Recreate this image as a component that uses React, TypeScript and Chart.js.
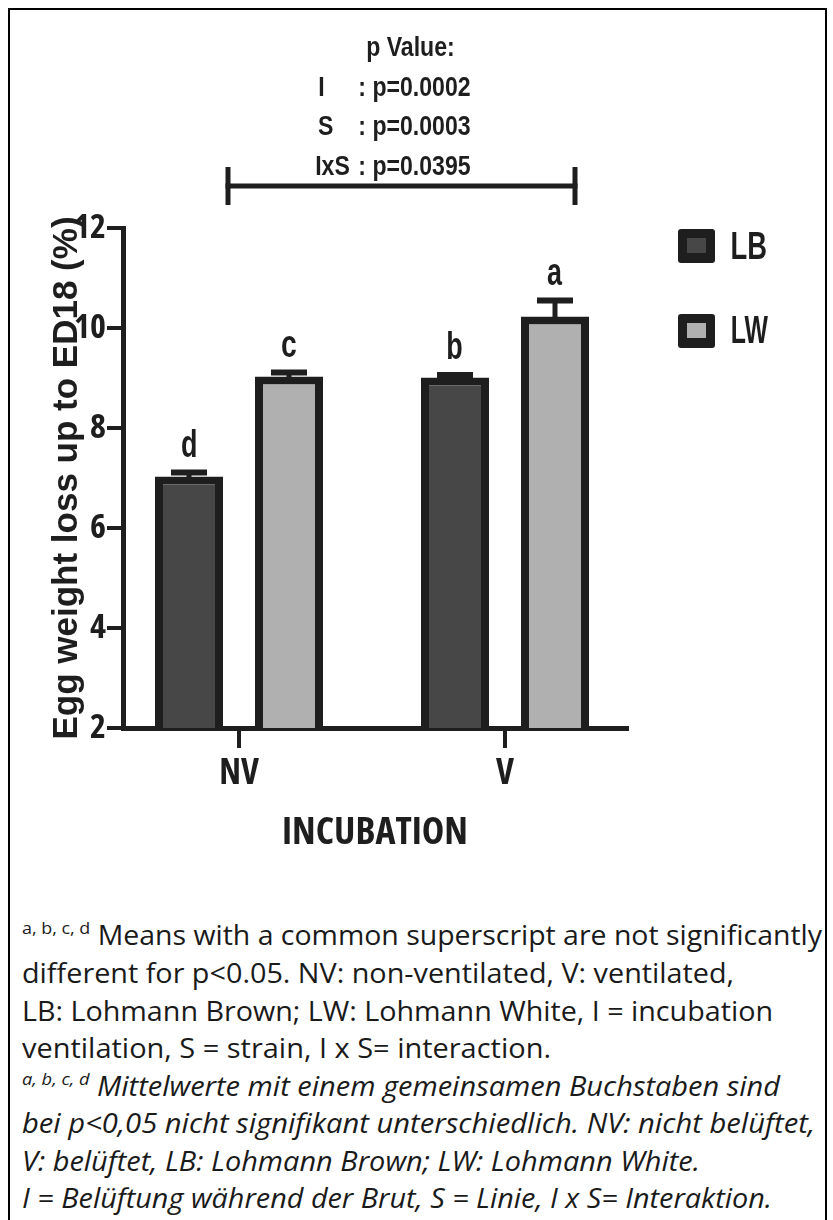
import React, { useEffect, useLayoutEffect, useRef } from 'react';
import { Chart, registerables } from 'chart.js';

Chart.register(...registerables);

// ---------- data ----------
const categories = ['NV', 'V'];
const seriesNames = ['LB', 'LW'];
const lbMeans = [7.03, 9.01];
const lwMeans = [9.03, 10.23];
const lbErrors = [0.08, 0.05];
const lwErrors = [0.08, 0.32];
const lbLetters = ['d', 'b'];
const lwLetters = ['c', 'a'];
const yTickValues = [2, 4, 6, 8, 10, 12];
const pTitle = 'p Value:';
const pTerms = ['I', 'S', 'IxS'];
const pValues = ['p=0.0002', 'p=0.0003', 'p=0.0395'];
const xTitle = 'INCUBATION';
const yTitle = 'Egg weight loss up to ED18 (%)';

const footSup = 'a, b, c, d';
const footLines = [
  ' Means with a common superscript are not significantly',
  'different for p<0.05. NV: non-ventilated, V: ventilated,',
  'LB: Lohmann Brown; LW: Lohmann White, I = incubation',
  'ventilation, S = strain, I x S= interaction.',
  ' Mittelwerte mit einem gemeinsamen Buchstaben sind',
  'bei p<0,05 nicht signifikant unterschiedlich. NV: nicht belüftet,',
  'V: belüftet, LB: Lohmann Brown; LW: Lohmann White.',
  'I = Belüftung während der Brut, S = Linie, I x S= Interaktion.',
];

// ---------- styles / layout ----------
const INK = '#1e1e1e';
const FILLS = ['#474747', '#b0b0b0'];
const NARROW = '"Liberation Sans", Arial, sans-serif';
const COND = '"Open Sans", "Liberation Sans", sans-serif';
const SANS = '"Liberation Sans", Arial, sans-serif';
const footHasSup = [true, false, false, false, true, false, false, false];
const footItalic = [false, false, false, false, true, true, true, true];
const footBaseline = [945, 983, 1021, 1058, 1096, 1133, 1171, 1208];
const footRight = [822, 734, 773, 551, 780, 815, 700, 772];
const FOOT_LEFT = 22;
const FOOT_SIZE = 27;

function drawFit(
  ctx: CanvasRenderingContext2D,
  text: string,
  x: number,
  baseline: number,
  font: string,
  opts: { target?: number; scale?: number; align: 'left' | 'center' }
) {
  ctx.save();
  ctx.font = font;
  ctx.textAlign = 'left';
  ctx.textBaseline = 'alphabetic';
  const m = ctx.measureText(text);
  const inkW = m.actualBoundingBoxLeft + m.actualBoundingBoxRight;
  let s = opts.scale ?? 1;
  if (opts.target && inkW > 0) s = opts.target / inkW;
  ctx.translate(x, baseline);
  ctx.scale(s, 1);
  const ox =
    opts.align === 'center'
      ? -(m.actualBoundingBoxRight - m.actualBoundingBoxLeft) / 2
      : m.actualBoundingBoxLeft;
  ctx.fillText(text, ox, 0);
  ctx.restore();
  return s;
}

const annotPlugin = {
  id: 'annot',
  afterDatasetsDraw(chart: any) {
    const ctx: CanvasRenderingContext2D = chart.ctx;
    const yScale = chart.scales.y;
    const means = [lbMeans, lwMeans];
    const errs = [lbErrors, lwErrors];
    const letters = [lbLetters, lwLetters];
    ctx.save();
    ctx.fillStyle = INK;
    chart.data.datasets.forEach((_ds: any, d: number) => {
      const meta = chart.getDatasetMeta(d);
      meta.data.forEach((bar: any, i: number) => {
        const yTop = yScale.getPixelForValue(means[d][i]);
        const yErr = yScale.getPixelForValue(means[d][i] + errs[d][i]);
        ctx.fillStyle = INK;
        ctx.fillRect(bar.x - 2.5, yErr, 5, yTop - yErr + 4);
        ctx.fillRect(bar.x - 18, yErr - 3, 36, 6);
        drawFit(ctx, letters[d][i], bar.x, yErr - 16, `bold 39px ${NARROW}`, {
          target: 14.5,
          align: 'center',
        });
      });
    });
    ctx.restore();
  },
  afterDraw(chart: any) {
    const ctx: CanvasRenderingContext2D = chart.ctx;
    ctx.save();
    ctx.fillStyle = INK;
    const pFont = `bold 27px ${NARROW}`;
    const s = drawFit(ctx, pTitle, 367, 56, pFont, { target: 86, align: 'left' });
    const termLeft = [319, 318, 316];
    const rowBase = [96, 135, 175];
    pTerms.forEach((t, i) => {
      drawFit(ctx, t, termLeft[i], rowBase[i], pFont, { scale: s, align: 'left' });
      drawFit(ctx, ': ' + pValues[i], 360, rowBase[i], pFont, { scale: s, align: 'left' });
    });
    // bracket spanning both incubation groups
    const xs = chart.scales.x;
    const xl = xs.getPixelForValue(0) - 11;
    const xr = xs.getPixelForValue(1) + 70;
    const yb = 186;
    ctx.fillRect(xl - 2.5, yb - 2.5, xr - xl + 5, 5);
    ctx.fillRect(xl - 2.5, yb - 19, 5, 38);
    ctx.fillRect(xr - 2.5, yb - 19, 5, 38);
    // legend
    chart.data.datasets.forEach((ds: any, d: number) => {
      const bx = 678;
      const by = 229 + d * 85;
      ctx.fillStyle = INK;
      ctx.beginPath();
      (ctx as any).roundRect(bx, by, 37, 34, 3);
      ctx.fill();
      ctx.fillStyle = ds.backgroundColor;
      ctx.fillRect(bx + 9, by + 9, 19, 15);
      ctx.fillStyle = INK;
      drawFit(ctx, ds.label, 732, 259 + d * 84, `bold 38px ${NARROW}`, {
        target: 34 + d * 2,
        align: 'left',
      });
    });
    ctx.restore();
  },
};

export default function App() {
  const canvasRef = useRef<HTMLCanvasElement>(null);
  const lineRefs = useRef<(HTMLDivElement | null)[]>([]);

  useEffect(() => {
    const canvas = canvasRef.current;
    if (!canvas) return;
    const idx = categories.map((_, i) => i);
    const chart = new Chart(canvas, {
      type: 'bar',
      data: {
        datasets: [
          {
            label: seriesNames[0],
            data: idx.map((i) => ({ x: i, y: lbMeans[i] })),
            backgroundColor: FILLS[0],
            borderColor: INK,
            borderWidth: 8,
          },
          {
            label: seriesNames[1],
            data: idx.map((i) => ({ x: i, y: lwMeans[i] })),
            backgroundColor: FILLS[1],
            borderColor: INK,
            borderWidth: 8,
          },
        ],
      },
      options: {
        responsive: false,
        animation: false,
        devicePixelRatio: 1,
        categoryPercentage: 200 / 266,
        barPercentage: 0.68,
        layout: { padding: { top: 228, left: 10, right: 206, bottom: 0 } },
        plugins: {
          legend: { display: false },
          tooltip: { enabled: false },
          title: { display: false },
        },
        scales: {
          x: {
            type: 'linear',
            min: -116 / 266,
            max: 1 + 122 / 266,
            offset: false,
            afterBuildTicks: (scale: any) => {
              scale.ticks = idx.map((i) => ({ value: i }));
            },
            afterFit: (scale: any) => {
              scale.height = 152;
            },
            grid: {
              display: true,
              offset: false,
              drawOnChartArea: false,
              drawTicks: true,
              tickLength: 20,
              lineWidth: 4,
              color: INK,
            },
            border: { display: true, color: INK, width: 5 },
            ticks: {
              autoSkip: false,
              maxRotation: 0,
              padding: 5,
              color: INK,
              font: { family: COND, weight: 'bold condensed', size: 35 },
              callback: (v: any) => categories[v as number] ?? '',
            },
            title: {
              display: true,
              text: xTitle,
              color: INK,
              font: { family: COND, weight: 'bold condensed', size: 38 },
              padding: { top: 0, bottom: 24 },
            },
          },
          y: {
            type: 'linear',
            min: yTickValues[0],
            max: yTickValues[yTickValues.length - 1],
            afterBuildTicks: (scale: any) => {
              scale.ticks = yTickValues.map((v) => ({ value: v }));
            },
            afterFit: (scale: any) => {
              scale.width = 113;
            },
            grid: {
              display: true,
              drawOnChartArea: false,
              drawTicks: true,
              tickLength: 16,
              lineWidth: 4,
              color: INK,
            },
            border: { display: true, color: INK, width: 5 },
            ticks: {
              padding: 1,
              color: INK,
              font: { family: COND, weight: 'bold condensed', size: 34 },
            },
            title: {
              display: true,
              text: yTitle,
              color: INK,
              font: { family: SANS, weight: 'bold', size: 35 },
              padding: { top: 36, bottom: 0 },
            },
          },
        },
      },
      plugins: [annotPlugin],
    } as any);
    return () => chart.destroy();
  }, []);

  useLayoutEffect(() => {
    const fit = () => {
      lineRefs.current.forEach((el, i) => {
        if (!el) return;
        el.style.transform = 'none';
        const w = el.getBoundingClientRect().width;
        if (w > 0) el.style.transform = `scaleX(${(footRight[i] - FOOT_LEFT) / w})`;
      });
    };
    fit();
    if ((document as any).fonts?.ready) (document as any).fonts.ready.then(fit);
  }, []);

  return (
    <div
      style={{
        position: 'absolute',
        left: 0,
        top: 0,
        width: 833,
        height: 1220,
        background: '#fff',
        overflow: 'hidden',
      }}
    >
      <div
        style={{
          position: 'absolute',
          left: 8,
          top: 8,
          width: 819,
          height: 1240,
          border: '2px solid #000',
          boxSizing: 'border-box',
        }}
      />
      <canvas
        ref={canvasRef}
        width={833}
        height={880}
        style={{ position: 'absolute', left: 0, top: 0, width: 833, height: 880 }}
      />
      {footLines.map((t, i) => (
        <div
          key={i}
          ref={(el) => {
            lineRefs.current[i] = el;
          }}
          style={{
            position: 'absolute',
            left: FOOT_LEFT,
            top: footBaseline[i] - Math.round(FOOT_SIZE * 0.888),
            fontFamily: '"Open Sans", "Noto Sans", sans-serif',
            fontSize: FOOT_SIZE,
            lineHeight: `${FOOT_SIZE}px`,
            fontStyle: footItalic[i] ? 'italic' : 'normal',
            whiteSpace: 'nowrap',
            color: '#1a1a1a',
            transformOrigin: 'left center',
            display: 'inline-block',
          }}
        >
          {footHasSup[i] && (
            <span style={{ fontSize: 17, position: 'relative', top: -11 }}>{footSup}</span>
          )}
          {t}
        </div>
      ))}
    </div>
  );
}
